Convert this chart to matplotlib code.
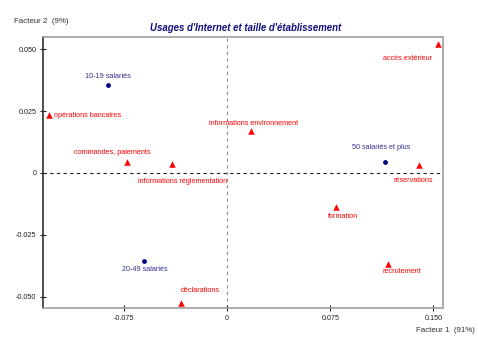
import matplotlib.pyplot as plt

# modalités "taille" (points bleus)
size_names = ['10-19 salariés', '20-49 salariés', '50 salariés et plus']
size_x = [-0.087, -0.0602, 0.1148]
size_y = [0.0358, -0.0355, 0.0043]

# usages d'Internet (triangles rouges)
usage_names = ['opérations bancaires', 'accès extérieur', 'commandes, paiements',
               'informations réglementation', 'informations environnement',
               'réservations', 'formation', 'recrutement', 'déclarations']
usage_x = [-0.130, 0.1537, -0.0728, -0.040, 0.017, 0.1396, 0.0789, 0.117, -0.0335]
usage_y = [0.0233, 0.0520, 0.0045, 0.0037, 0.0169, 0.0031, -0.0138, -0.0368, -0.0525]

x_ticks = [-0.075, 0, 0.075, 0.150]
x_labels = ['-0.075', '0', '0.075', '0.150']
y_ticks = [-0.050, -0.025, 0, 0.025, 0.050]
y_labels = ['-0.050', '-0.025', '0', '0.025', '0.050']

# label offsets in pixels (dx, dy), with alignment
size_offsets = [(0, 8, 'center'), (0, -9, 'center'), (-4, 15, 'center')]
usage_offsets = [(5, 0, 'left'), (-31, -14, 'center'), (-15, 9, 'center'),
                 (10, -18, 'center'), (3, 8, 'center'), (-6, -15, 'center'),
                 (7, -9, 'center'), (14, -8, 'center'), (19, 12, 'center')]

plt.rcParams['font.family'] = ['Liberation Sans Narrow', 'Liberation Sans', 'DejaVu Sans']

fig = plt.figure(figsize=(4.78, 3.45), dpi=100)
ax = fig.add_axes([0.0906, 0.1081, 0.8355, 0.7838])

red = '#ff0000'
navy = '#000080'
label_blue = '#303090'

ax.axhline(0, color='#202020', lw=0.8, ls=(0, (3, 3)), zorder=1)
ax.axvline(0, color='#909090', lw=0.8, ls=(0, (3, 3)), zorder=1)

ax.scatter(usage_x, usage_y, marker='^', s=22, color=red, linewidths=0, zorder=3)
ax.scatter(size_x, size_y, marker='o', s=12, color=navy, linewidths=0, zorder=3)

px = 72 / 100
for name, x, y, (dx, dy, ha) in zip(usage_names, usage_x, usage_y, usage_offsets):
    ax.annotate(name, (x, y), xytext=(dx * px, dy * px), textcoords='offset points',
                ha=ha, va='center', fontsize=5.2, color=red)
for name, x, y, (dx, dy, ha) in zip(size_names, size_x, size_y, size_offsets):
    ax.annotate(name, (x, y), xytext=(dx * px, dy * px), textcoords='offset points',
                ha=ha, va='center', fontsize=5.2, color=label_blue)

ax.set_xlim(-0.1338, 0.1568)
ax.set_ylim(-0.0545, 0.0549)
ax.set_xticks(x_ticks)
ax.set_xticklabels(x_labels)
ax.set_yticks(y_ticks)
ax.set_yticklabels(y_labels)
ax.tick_params(direction='inout', length=4, width=0.8, colors='#202020',
               labelsize=5.2, pad=3)

ax.spines['left'].set_color('#303030')
for side in ['top', 'right', 'bottom']:
    ax.spines[side].set_color('#a0a0a0')
for side in ax.spines:
    ax.spines[side].set_linewidth(1.2)

fig.text(0.314, 0.919, "Usages d'Internet et taille d'établissement", fontsize=6.9,
         fontweight='bold', fontstyle='italic', color='#101080', ha='left', va='center')
fig.text(0.029, 0.939, 'Facteur 2  (9%)', fontsize=5.7, color='#303030', ha='left', va='center')
fig.text(0.870, 0.041, 'Facteur 1  (91%)', fontsize=5.7, color='#303030', ha='left', va='center')

fig.savefig('out.png', dpi=100)
